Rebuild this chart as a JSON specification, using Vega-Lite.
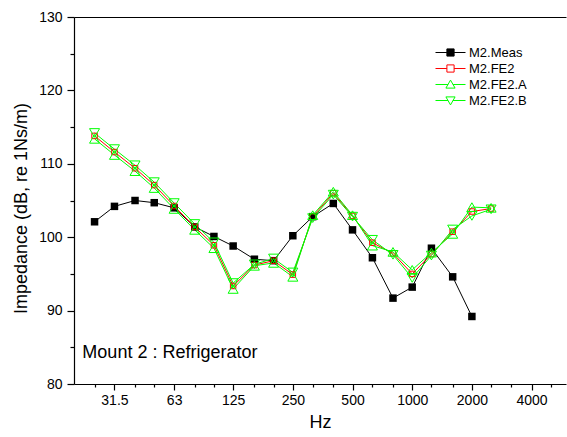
{
  "$schema": "https://vega.github.io/schema/vega-lite/v6.json",
  "width": 492,
  "height": 367,
  "autosize": "none",
  "padding": {"left": 74, "top": 17, "right": 1, "bottom": 53},
  "background": "white",
  "config": {
    "font": "Liberation Sans",
    "view": {"stroke": null},
    "axis": {
      "grid": false,
      "domainColor": "black",
      "tickColor": "black",
      "labelColor": "black",
      "titleColor": "black",
      "labelFontSize": 14,
      "titleFontSize": 18,
      "titleFontWeight": "normal",
      "domainWidth": 1.2,
      "tickWidth": 1.2,
      "labelFont": "Liberation Sans",
      "titleFont": "Liberation Sans"
    }
  },
  "datasets": {
    "curves": [
      {"series": "M2.Meas", "hz": 25, "val": 102.1},
      {"series": "M2.Meas", "hz": 31.5, "val": 104.2},
      {"series": "M2.Meas", "hz": 40, "val": 105.0},
      {"series": "M2.Meas", "hz": 50, "val": 104.7},
      {"series": "M2.Meas", "hz": 63, "val": 104.0},
      {"series": "M2.Meas", "hz": 80, "val": 101.4},
      {"series": "M2.Meas", "hz": 100, "val": 100.1},
      {"series": "M2.Meas", "hz": 125, "val": 98.8},
      {"series": "M2.Meas", "hz": 160, "val": 97.0},
      {"series": "M2.Meas", "hz": 200, "val": 96.8},
      {"series": "M2.Meas", "hz": 250, "val": 100.2},
      {"series": "M2.Meas", "hz": 315, "val": 102.8},
      {"series": "M2.Meas", "hz": 400, "val": 104.6},
      {"series": "M2.Meas", "hz": 500, "val": 101.0},
      {"series": "M2.Meas", "hz": 630, "val": 97.2},
      {"series": "M2.Meas", "hz": 800, "val": 91.7},
      {"series": "M2.Meas", "hz": 1000, "val": 93.2},
      {"series": "M2.Meas", "hz": 1250, "val": 98.5},
      {"series": "M2.Meas", "hz": 1600, "val": 94.6},
      {"series": "M2.Meas", "hz": 2000, "val": 89.2},

      {"series": "M2.FE2", "hz": 25, "val": 113.8},
      {"series": "M2.FE2", "hz": 31.5, "val": 111.6},
      {"series": "M2.FE2", "hz": 40, "val": 109.4},
      {"series": "M2.FE2", "hz": 50, "val": 107.1},
      {"series": "M2.FE2", "hz": 63, "val": 104.25},
      {"series": "M2.FE2", "hz": 80, "val": 101.4},
      {"series": "M2.FE2", "hz": 100, "val": 98.9},
      {"series": "M2.FE2", "hz": 125, "val": 93.35},
      {"series": "M2.FE2", "hz": 160, "val": 96.2},
      {"series": "M2.FE2", "hz": 200, "val": 96.8},
      {"series": "M2.FE2", "hz": 250, "val": 94.9},
      {"series": "M2.FE2", "hz": 315, "val": 102.8},
      {"series": "M2.FE2", "hz": 400, "val": 106.0},
      {"series": "M2.FE2", "hz": 500, "val": 102.9},
      {"series": "M2.FE2", "hz": 630, "val": 99.25},
      {"series": "M2.FE2", "hz": 800, "val": 97.8},
      {"series": "M2.FE2", "hz": 1000, "val": 95.0},
      {"series": "M2.FE2", "hz": 1250, "val": 97.7},
      {"series": "M2.FE2", "hz": 1600, "val": 100.75},
      {"series": "M2.FE2", "hz": 2000, "val": 103.5},
      {"series": "M2.FE2", "hz": 2500, "val": 103.9},

      {"series": "M2.FE2.A", "hz": 25, "val": 113.4},
      {"series": "M2.FE2.A", "hz": 31.5, "val": 111.2},
      {"series": "M2.FE2.A", "hz": 40, "val": 109.0},
      {"series": "M2.FE2.A", "hz": 50, "val": 106.7},
      {"series": "M2.FE2.A", "hz": 63, "val": 103.85},
      {"series": "M2.FE2.A", "hz": 80, "val": 101.0},
      {"series": "M2.FE2.A", "hz": 100, "val": 98.5},
      {"series": "M2.FE2.A", "hz": 125, "val": 92.95},
      {"series": "M2.FE2.A", "hz": 160, "val": 96.1},
      {"series": "M2.FE2.A", "hz": 200, "val": 96.5},
      {"series": "M2.FE2.A", "hz": 250, "val": 94.6},
      {"series": "M2.FE2.A", "hz": 315, "val": 103.0},
      {"series": "M2.FE2.A", "hz": 400, "val": 106.2},
      {"series": "M2.FE2.A", "hz": 500, "val": 103.0},
      {"series": "M2.FE2.A", "hz": 630, "val": 98.85},
      {"series": "M2.FE2.A", "hz": 800, "val": 98.0},
      {"series": "M2.FE2.A", "hz": 1000, "val": 95.55},
      {"series": "M2.FE2.A", "hz": 1250, "val": 97.9},
      {"series": "M2.FE2.A", "hz": 1600, "val": 100.45},
      {"series": "M2.FE2.A", "hz": 2000, "val": 104.1},
      {"series": "M2.FE2.A", "hz": 2500, "val": 104.0},

      {"series": "M2.FE2.B", "hz": 25, "val": 114.2},
      {"series": "M2.FE2.B", "hz": 31.5, "val": 112.0},
      {"series": "M2.FE2.B", "hz": 40, "val": 109.8},
      {"series": "M2.FE2.B", "hz": 50, "val": 107.5},
      {"series": "M2.FE2.B", "hz": 63, "val": 104.65},
      {"series": "M2.FE2.B", "hz": 80, "val": 101.8},
      {"series": "M2.FE2.B", "hz": 100, "val": 99.3},
      {"series": "M2.FE2.B", "hz": 125, "val": 93.75},
      {"series": "M2.FE2.B", "hz": 160, "val": 96.3},
      {"series": "M2.FE2.B", "hz": 200, "val": 97.1},
      {"series": "M2.FE2.B", "hz": 250, "val": 95.2},
      {"series": "M2.FE2.B", "hz": 315, "val": 102.6},
      {"series": "M2.FE2.B", "hz": 400, "val": 105.8},
      {"series": "M2.FE2.B", "hz": 500, "val": 102.8},
      {"series": "M2.FE2.B", "hz": 630, "val": 99.65},
      {"series": "M2.FE2.B", "hz": 800, "val": 97.6},
      {"series": "M2.FE2.B", "hz": 1000, "val": 94.45},
      {"series": "M2.FE2.B", "hz": 1250, "val": 97.5},
      {"series": "M2.FE2.B", "hz": 1600, "val": 101.05},
      {"series": "M2.FE2.B", "hz": 2000, "val": 102.9},
      {"series": "M2.FE2.B", "hz": 2500, "val": 103.8}
    ],
    "note": [
      {"hz": 21.7, "val": 83.5, "label": "Mount 2 : Refrigerator"}
    ]
  },
  "resolve": {"axis": {"x": "independent", "y": "independent"}},
  "layer": [
    {
      "data": {"name": "curves"},
      "mark": {"type": "line", "strokeWidth": 1},
      "encoding": {
        "x": {
          "field": "hz", "type": "quantitative",
          "scale": {"type": "log", "domain": [19.69, 5966], "nice": false},
          "axis": {
            "orient": "bottom",
            "values": [31.5, 63, 125, 250, 500, 1000, 2000, 4000],
            "labelExpr": "'' + datum.value",
            "tickSize": 6,
            "labelPadding": 3,
            "labelFlush": false,
            "labelOverlap": false,
            "title": "Hz",
            "titlePadding": 6
          }
        },
        "y": {
          "field": "val", "type": "quantitative",
          "scale": {"domain": [80, 130], "nice": false, "zero": false},
          "axis": {
            "orient": "left",
            "values": [80, 90, 100, 110, 120, 130],
            "tickSize": 7,
            "labelPadding": 5,
            "title": "Impedance (dB, re 1Ns/m)",
            "titlePadding": 8,
            "titleY": 191
          }
        },
        "color": {
          "field": "series", "type": "nominal",
          "scale": {
            "domain": ["M2.Meas", "M2.FE2", "M2.FE2.A", "M2.FE2.B"],
            "range": ["#000000", "#ff0000", "#00ff00", "#00ff00"]
          },
          "legend": {
            "orient": "none",
            "legendX": 370,
            "legendY": 29,
            "title": null,
            "padding": 0,
            "symbolSize": 64,
            "symbolStrokeWidth": 1,
            "labelFontSize": 13,
            "labelFont": "Liberation Sans",
            "labelColor": "black",
            "labelOffset": 12,
            "rowPadding": 2,
            "encode": {
              "symbols": {
                "update": {
                  "shape": {"signal": "datum.value === 'M2.FE2.A' ? 'M-3.75,0L-0.6,0M0.6,0L3.75,0M0,-1.1L1.15,0.9L-1.15,0.9Z' : datum.value === 'M2.FE2.B' ? 'M-3.75,0L-0.6,0M0.6,0L3.75,0M0,1.1L1.15,-0.9L-1.15,-0.9Z' : 'M-3.75,0L-0.9,0M0.9,0L3.75,0M-0.9,-0.9L0.9,-0.9L0.9,0.9L-0.9,0.9Z'"},
                  "fill": {"signal": "datum.value === 'M2.Meas' ? '#000000' : '#ffffff'"},
                  "strokeWidth": {"value": 1}
                }
              }
            }
          }
        }
      }
    },
    {
      "data": {"name": "curves"},
      "transform": [{"filter": "datum.series === 'M2.Meas'"}],
      "mark": {"type": "point", "shape": "square", "filled": true, "fill": "#000000", "size": 56, "opacity": 1},
      "encoding": {
        "x": {
          "field": "hz", "type": "quantitative",
          "axis": {
            "orient": "bottom",
            "values": [25, 40, 50, 80, 100, 160, 200, 315, 400, 630, 800, 1250, 1600, 2500, 3150, 5000],
            "tickSize": 3,
            "labels": false,
            "domain": false,
            "title": null
          }
        },
        "y": {
          "field": "val", "type": "quantitative",
          "axis": {
            "orient": "left",
            "values": [85, 95, 105, 115, 125],
            "tickSize": 4,
            "labels": false,
            "domain": false,
            "title": null
          }
        }
      }
    },
    {
      "data": {"name": "curves"},
      "transform": [{"filter": "datum.series === 'M2.FE2'"}],
      "mark": {"type": "point", "shape": "square", "filled": false, "stroke": "#ff0000", "strokeWidth": 1, "size": 30, "opacity": 1},
      "encoding": {
        "x": {"field": "hz", "type": "quantitative", "axis": null},
        "y": {"field": "val", "type": "quantitative", "axis": null}
      }
    },
    {
      "data": {"name": "curves"},
      "transform": [{"filter": "datum.series === 'M2.FE2.A'"}],
      "mark": {"type": "point", "shape": "triangle-up", "filled": false, "stroke": "#00ff00", "strokeWidth": 1, "size": 100, "opacity": 1},
      "encoding": {
        "x": {"field": "hz", "type": "quantitative", "axis": null},
        "y": {"field": "val", "type": "quantitative", "axis": null}
      }
    },
    {
      "data": {"name": "curves"},
      "transform": [{"filter": "datum.series === 'M2.FE2.B'"}],
      "mark": {"type": "point", "shape": "triangle-down", "filled": false, "stroke": "#00ff00", "strokeWidth": 1, "size": 100, "opacity": 1},
      "encoding": {
        "x": {"field": "hz", "type": "quantitative", "axis": null},
        "y": {"field": "val", "type": "quantitative", "axis": null}
      }
    },
    {
      "data": {"name": "note"},
      "mark": {"type": "text", "align": "left", "baseline": "alphabetic", "fontSize": 18, "font": "Liberation Sans", "color": "black"},
      "encoding": {
        "x": {
          "field": "hz", "type": "quantitative",
          "axis": {"orient": "top", "ticks": false, "labels": false, "domain": true, "title": null}
        },
        "y": {"field": "val", "type": "quantitative", "axis": null},
        "text": {"field": "label"}
      }
    }
  ]
}
